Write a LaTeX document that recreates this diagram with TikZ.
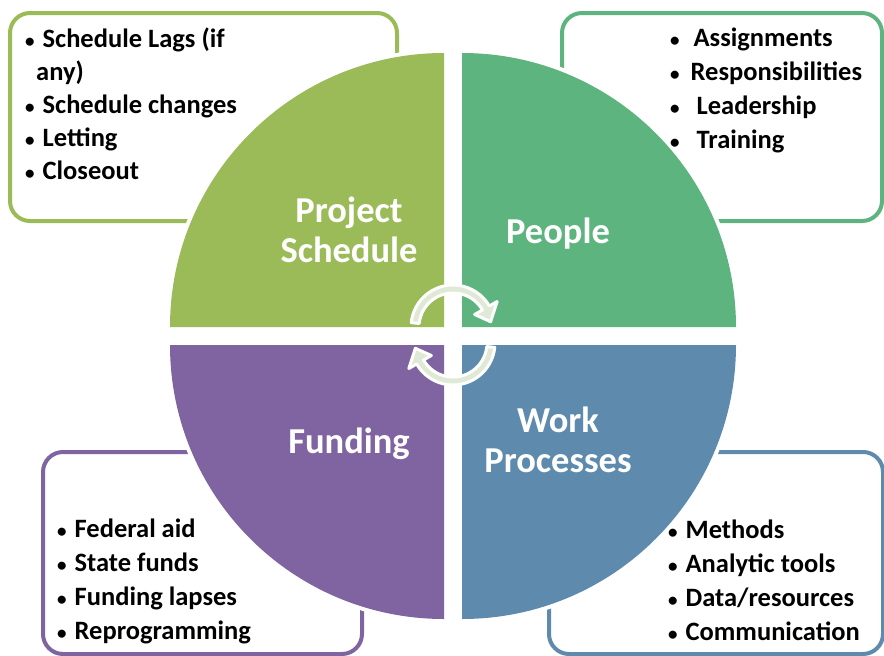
\documentclass[tikz,border=0pt]{standalone}
\usepackage{fontspec}
\setmainfont{Carlito}

\definecolor{leafgreen}{HTML}{9BBB59}
\definecolor{seagreen}{HTML}{5EB47E}
\definecolor{plum}{HTML}{8064A2}
\definecolor{steelblue}{HTML}{5E8BAD}
\definecolor{mist}{HTML}{E0E9D5}

% small list bullet, followed by its space
\newcommand{\bul}{{\fontsize{19}{19}\selectfont •}\hspace{2pt}\ }

\tikzset{
  infobox/.style={line width=4pt, rounded corners=20pt, fill=white},
  quadrant/.style={preaction={draw=white, line width=8pt, line join=round}},
  itemlist/.style={anchor=base west, align=left, inner sep=0pt,
    font=\bfseries\fontsize{26.5}{34}\selectfont},
  heading/.style={text=white, align=center, inner sep=0pt,
    font=\bfseries\fontsize{36.5}{40}\selectfont},
  cyclearrow/.style={fill=mist, draw=white, line width=3pt, line join=round}
}

\begin{document}
\begin{tikzpicture}[x=1pt, y=-1pt]
  \useasboundingbox (0,0) rectangle (884,656);

  % Boxes behind the wheel
  \draw[infobox, draw=leafgreen] (10,13) rectangle (397,221);
  \draw[infobox, draw=seagreen] (562,13) rectangle (882,221);
  \draw[infobox, draw=plum] (43,452) rectangle (362,654);
  \draw[infobox, draw=steelblue] (549,452) rectangle (883,654);

  % Four quarter discs
  \fill[quadrant, leafgreen] (444,327) -- (170,327)
    arc[start angle=180, end angle=270, radius=274] -- cycle;
  \fill[quadrant, seagreen] (462,327) -- (462,53)
    arc[start angle=270, end angle=360, radius=274] -- cycle;
  \fill[quadrant, steelblue] (462,345) -- (736,345)
    arc[start angle=0, end angle=90, radius=274] -- cycle;
  \fill[quadrant, plum] (444,345) -- (444,619)
    arc[start angle=90, end angle=180, radius=274] -- cycle;

  % Headings on the discs
  \node[heading] (schedule) at (349,230) {Project\\Schedule};
  \node[heading, anchor=base] (people) at (558,243) {People};
  \node[heading, anchor=base] (funding) at (349,453) {Funding};
  \node[heading] (processes) at (558,440) {Work\\Processes};

  % Cycle arrows in the middle
  \begin{scope}[shift={(453,327)}]
    \draw[cyclearrow] (186:42) arc[start angle=186, end angle=330, radius=42]
      -- (330:51) -- (352:38) -- (330:25) -- (330:34)
      arc[start angle=330, end angle=186, radius=34] -- cycle;
  \end{scope}
  \begin{scope}[shift={(453,343)}]
    \draw[cyclearrow] (6:42) arc[start angle=6, end angle=150, radius=42]
      -- (150:51) -- (172:38) -- (150:25) -- (150:34)
      arc[start angle=150, end angle=6, radius=34] -- cycle;
  \end{scope}

  % Bullet lists (base sits on the last line)
  \node[itemlist, font=\bfseries\fontsize{26.5}{33}\selectfont] (schedule-list) at (25,179) {%
    \bul Schedule Lags (if\\
    \hspace*{11pt}any)\\
    \bul Schedule changes\\
    \bul Letting\\
    \bul Closeout};
  \node[itemlist] (people-list) at (670,148) {%
    \bul\ Assignments\\
    \bul\hspace{3pt}Responsibilities\\
    \bul\hspace{9pt}Leadership\\
    \bul\hspace{9pt}Training};
  \node[itemlist] (funding-list) at (57,639) {%
    \bul Federal aid\\
    \bul State funds\\
    \bul Funding lapses\\
    \bul Reprogramming};
  \node[itemlist] (processes-list) at (668,640) {%
    \bul Methods\\
    \bul Analytic tools\\
    \bul Data/resources\\
    \bul Communication};

\end{tikzpicture}
\end{document}
